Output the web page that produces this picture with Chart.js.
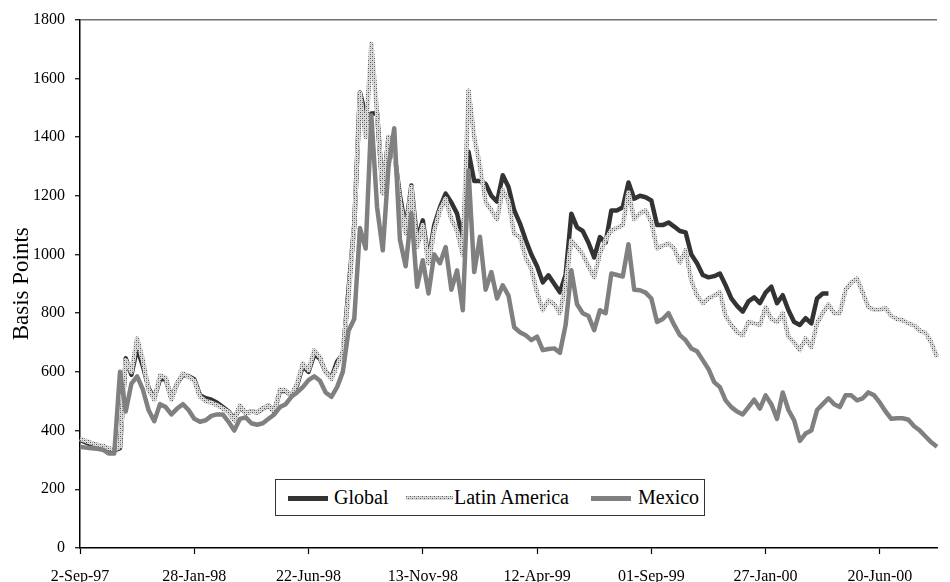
<!DOCTYPE html>
<html>
<head>
<meta charset="utf-8">
<script src="https://cdn.jsdelivr.net/npm/chart.js@4.4.1/dist/chart.umd.min.js"></script>
<style>
  body { margin: 0; background: #fff; }
  #wrap { position: relative; width: 950px; height: 582px; }
  #legend { position: absolute; left: 275px; top: 479px; width: 430px; height: 37px;
            border: 1px solid #333; background: #fff; box-sizing: border-box; }
  #legend canvas, #legend span { position: absolute; }
  #legend span { top: 5px; line-height: 24px; white-space: nowrap; color: #000;
                 font-family: 'Liberation Serif', 'Times New Roman', serif; font-size: 20px; }
</style>
</head>
<body>
<div id="wrap">
  <canvas id="chart-spreads" width="950" height="582"></canvas>
  <div id="legend"></div>
</div>
<script>
const seriesNames = ['Global', 'Latin America', 'Mexico'];
const tickLabels = ['2-Sep-97', '28-Jan-98', '22-Jun-98', '13-Nov-98', '12-Apr-99', '01-Sep-99', '27-Jan-00', '20-Jun-00'];
const tickEvery = 20;

const globalSpread = [
    368, 360, 352, 348, 345, 336, 332, 340, 646, 590,
    680, 620, 545, 510, 575, 575, 510, 560, 590, 585,
    575, 520, 510, 505, 495, 480, 465, 440, 480, 460,
    465, 462, 475, 485, 465, 535, 535, 520, 555, 620,
    600, 660, 645, 600, 580, 635, 660, 880, 1100, 1552,
    1473, 1480, 1481, 1210, 1400, 1348, 1200, 1090, 1235, 1050,
    1116, 980, 1100, 1160, 1207, 1177, 1139, 1050, 1350, 1250,
    1250, 1240, 1200, 1180, 1270, 1230, 1150, 1106, 1050, 1000,
    960, 905, 929, 900, 871, 930, 1139, 1092, 1080, 1040,
    990, 1059, 1040, 1150, 1150, 1161, 1245, 1190, 1200, 1195,
    1184, 1100, 1100, 1109, 1095, 1080, 1075, 1000, 970, 930,
    922, 926, 935, 895, 850, 825, 805, 840, 854, 834,
    870, 890, 834, 861, 810, 770, 760, 783, 765, 850,
    867, 867, null, null, null, null, null, null, null, null,
    null, null, null, null, null, null, null, null, null, null,
    null
];

const latamSpread = [
    372, 365, 358, 352, 348, 340, 335, 345, 640, 600,
    714, 640, 540, 505, 588, 580, 505, 560, 595, 583,
    570, 515, 500, 495, 486, 475, 463, 435, 486, 459,
    465, 463, 476, 486, 463, 540, 537, 520, 561, 629,
    606, 674, 650, 600, 575, 620, 670, 860, 1100, 1550,
    1400, 1718, 1480, 1207, 1400, 1350, 1180, 1071, 1230, 1025,
    1100, 969, 1080, 1150, 1190, 1120, 1080, 997, 1558, 1400,
    1300, 1180, 1150, 1120, 1220, 1180, 1071, 1059, 990, 950,
    870, 810, 844, 830, 800, 900, 1048, 1025, 1000, 960,
    922, 1003, 1050, 1082, 1090, 1100, 1211, 1120, 1140, 1150,
    1110, 1020, 1030, 1037, 1020, 973, 1014, 910, 860, 834,
    850, 860, 871, 790, 760, 735, 725, 770, 765, 760,
    820, 780, 770, 800, 720, 700, 675, 714, 684, 765,
    800, 830, 800, 800, 880, 905, 918, 870, 820, 812,
    812, 817, 790, 780, 776, 765, 758, 740, 733, 700,
    650
];

const mexicoSpread = [
    345, 342, 340, 338, 335, 322, 322, 600, 465, 560,
    585, 540, 470, 432, 490, 480, 455, 475, 490, 470,
    440, 430, 435, 450, 455, 455, 430, 400, 440, 445,
    425, 420, 425, 440, 455, 480, 490, 515, 530, 548,
    572, 585, 570, 530, 515, 548, 600, 740, 780, 1090,
    1020, 1473, 1160, 1014, 1300, 1430, 1050, 960, 1140, 890,
    980, 867, 1000, 970, 1025, 880, 946, 810, 1286, 940,
    1060, 880, 940, 850, 895, 860, 752, 735, 725, 708,
    720, 674, 678, 680, 665, 760, 946, 830, 800, 790,
    742, 810, 800, 935, 930, 925, 1035, 880, 878, 870,
    850, 770, 780, 800, 760, 725, 708, 680, 670, 640,
    610, 565, 548, 503, 480, 465, 455, 480, 505, 475,
    520, 490, 440, 530, 470, 435, 365, 390, 400, 470,
    490, 510, 490, 480, 520, 520, 503, 510, 530, 520,
    495, 465, 440, 442, 442, 437, 415, 400, 380, 360,
    345
];

const categories = latamSpread.map((v, i) => i % tickEvery === 0 ? tickLabels[i / tickEvery] : '');

const canvas = document.getElementById('chart-spreads');

// dotted grey texture like the Excel pattern line
function dottedPattern(ctx) {
    const p = document.createElement('canvas');
    p.width = 4; p.height = 4;
    const g = p.getContext('2d');
    g.fillStyle = '#dadada';
    g.fillRect(0, 0, 4, 4);
    g.fillStyle = '#555555';
    g.fillRect(0, 0, 1, 1);
    g.fillRect(2, 2, 1, 1);
    g.fillStyle = '#a0a0a0';
    g.fillRect(2, 0, 1, 1);
    g.fillRect(0, 2, 1, 1);
    return ctx.createPattern(p, 'repeat');
}

const lineStyles = [
    {color: '#333333', width: 4.5, order: 3},
    {color: dottedPattern(canvas.getContext('2d')), width: 4.5, order: 2},
    {color: '#808080', width: 4.5, order: 1},
];
const seriesData = [globalSpread, latamSpread, mexicoSpread];

const serif = "'Liberation Serif', 'Times New Roman', serif";

let chartSpreads = new Chart(canvas, {
    type: 'line',
    data: {
        labels: categories,
        datasets: seriesNames.map((name, k) => ({
            label: name,
            data: seriesData[k],
            borderColor: lineStyles[k].color,
            borderWidth: lineStyles[k].width,
            order: lineStyles[k].order,
            pointRadius: 0,
            tension: 0,
            borderJoinStyle: 'round',
            spanGaps: false,
            fill: false
        }))
    },
    options: {
        responsive: false,
        animation: false,
        layout: {padding: {top: 19, right: 2, left: 0, bottom: 0}},
        plugins: {legend: {display: false}, tooltip: {enabled: false}},
        scales: {
            x: {
                afterFit: (s) => { s.height = 34; },
                grid: {
                    drawOnChartArea: false,
                    tickLength: 6,
                    tickWidth: 1.2,
                    tickColor: (c) => c.index % tickEvery === 0 ? '#000' : 'rgba(0,0,0,0)'
                },
                border: {color: '#000', width: 1.5},
                ticks: {
                    autoSkip: false,
                    maxRotation: 0,
                    minRotation: 0,
                    padding: 13,
                    color: '#000',
                    font: {family: serif, size: 16}
                }
            },
            y: {
                min: 0,
                max: 1800,
                afterFit: (s) => { s.width = 80; },
                grid: {
                    color: (c) => c.tick && c.tick.value === 1800 ? '#707070' : 'rgba(0,0,0,0)',
                    lineWidth: 1.5,
                    tickLength: 5,
                    tickColor: '#000',
                    tickWidth: 1.2
                },
                border: {color: '#000', width: 1.5},
                ticks: {
                    stepSize: 200,
                    padding: 10,
                    color: '#000',
                    font: {family: serif, size: 16},
                    callback: (v) => String(v)
                },
                title: {
                    display: true,
                    text: 'Basis Points',
                    color: '#000',
                    font: {family: serif, size: 23},
                    padding: {top: 8, bottom: 0}
                }
            }
        }
    }
});

// legend box inside the plot, as in the original
const legendBox = document.getElementById('legend');
const legendSwatch = [
    {left: 12, width: 40, height: 5},
    {left: 130, width: 47, height: 4},
    {left: 315, width: 40, height: 5},
];
const legendText = [58, 178, 362];
seriesNames.forEach((name, k) => {
    const sw = document.createElement('canvas');
    sw.width = legendSwatch[k].width;
    sw.height = legendSwatch[k].height;
    sw.style.left = legendSwatch[k].left + 'px';
    sw.style.top = (18 - legendSwatch[k].height / 2) + 'px';
    const g = sw.getContext('2d');
    g.fillStyle = k === 1 ? dottedPattern(g) : lineStyles[k].color;
    g.fillRect(0, 0, sw.width, sw.height);
    legendBox.appendChild(sw);
    const t = document.createElement('span');
    t.textContent = name;
    t.style.left = legendText[k] + 'px';
    legendBox.appendChild(t);
});
</script>
</body>
</html>
